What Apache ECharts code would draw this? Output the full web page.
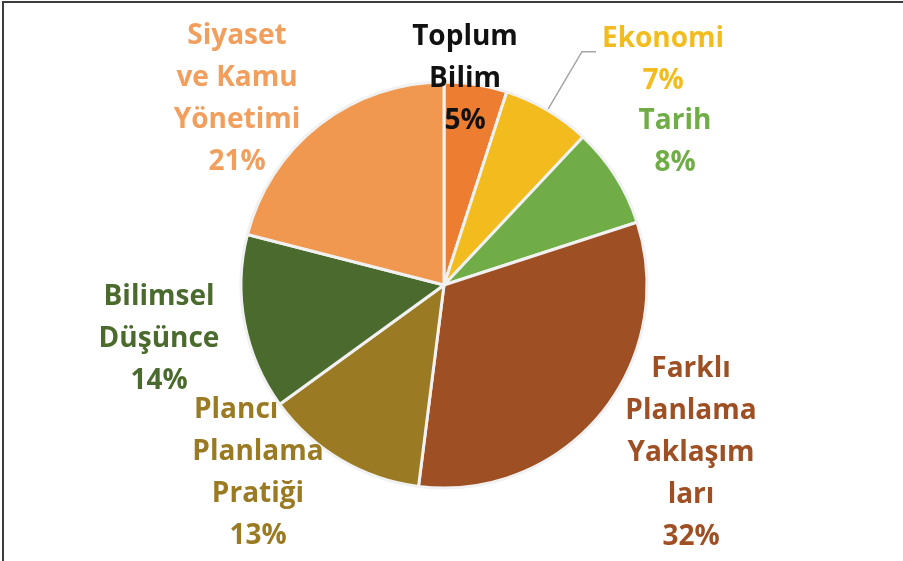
<!DOCTYPE html>
<html>
<head>
<meta charset="utf-8">
<script src="https://cdn.jsdelivr.net/npm/echarts@6/dist/echarts.min.js"></script>
<style>
  html, body { margin: 0; padding: 0; background: #fff; }
  #frame { position: absolute; left: 2px; top: 1px; width: 901px; height: 560px;
           border-left: 2px solid #3c3c3c; border-top: 2px solid #3c3c3c; box-sizing: border-box; }
  #chart { position: absolute; left: 0; top: 0; width: 903px; height: 561px; }
</style>
</head>
<body>
<div id="frame"></div>
<div id="chart"></div>
<script>
// Subject areas and their shares (percent), clockwise from 12 o'clock
const categories = [
  'Toplum\nBilim',
  'Ekonomi',
  'Tarih',
  'Farklı\nPlanlama\nYaklaşım\nları',
  'Plancı\nPlanlama\nPratiği',
  'Bilimsel\nDüşünce',
  'Siyaset\nve Kamu\nYönetimi'
];
const shares = [5, 7, 8, 32, 13, 14, 21];

// Slice and label colours
const sliceColors = ['#ED7D31', '#F3BC1E', '#70AD47', '#9E4F23', '#9A7A23', '#4A6B2D', '#F0984F'];
const labelColors = ['#111111', '#F3BC1E', '#70AD47', '#9E4F23', '#9A7A23', '#4A6B2D', '#F29E5C'];

// Where each label block is centred (null = placed by the pie's own outside layout)
const labelSpots = [[465, 79], null, [675, 142], [691, 453], [258, 473], [159, 339], [237, 99]];
// Trailing hard spaces after a label's first line (keeps "Plancı" flush left in its block)
const firstLinePad = [0, 0, 0, 0, 6, 0, 0];

const chart = echarts.init(document.getElementById('chart'), null, { renderer: 'canvas' });

const fontBase = {
  fontFamily: 'Open Sans',
  fontWeight: 'bold',
  fontSize: 28,
  lineHeight: 42
};

function labelText(params) {
  const lines = params.name.split('\n');
  lines[0] = lines[0] + '\u00a0'.repeat(firstLinePad[params.dataIndex]);
  return lines.join('\n') + '\n' + params.percent + '%';
}

const data = categories.map(function (name, i) {
  const item = {
    name: name,
    value: shares[i],
    itemStyle: { color: sliceColors[i] },
    label: Object.assign({ color: labelColors[i] }, fontBase)
  };
  if (labelSpots[i] === null) {
    item.label = {
      formatter: '{c|{b}}\n{c|{d}%}',
      distanceToLabelLine: 6,
      padding: [16, 0, 0, 0],
      rich: { c: Object.assign({ color: labelColors[i], align: 'center' }, fontBase) }
    };
    item.labelLine = {
      show: true,
      length: 68,
      length2: 14,
      lineStyle: { color: '#a5a5a5', width: 1.5 }
    };
  }
  return item;
});

chart.setOption({
  animation: false,
  backgroundColor: 'transparent',
  series: [{
    type: 'pie',
    center: [444, 285],
    radius: 203,
    startAngle: 90,
    clockwise: true,
    avoidLabelOverlap: false,
    itemStyle: { borderColor: '#f1f1f1', borderWidth: 3 },
    emphasis: { disabled: true },
    label: {
      show: true,
      position: 'outside',
      formatter: labelText
    },
    labelLine: { show: false },
    labelLayout: function (params) {
      const spot = labelSpots[params.dataIndex];
      if (!spot) return {};
      return { x: spot[0], y: spot[1], align: 'center', verticalAlign: 'middle' };
    },
    data: data
  }]
});
</script>
</body>
</html>
